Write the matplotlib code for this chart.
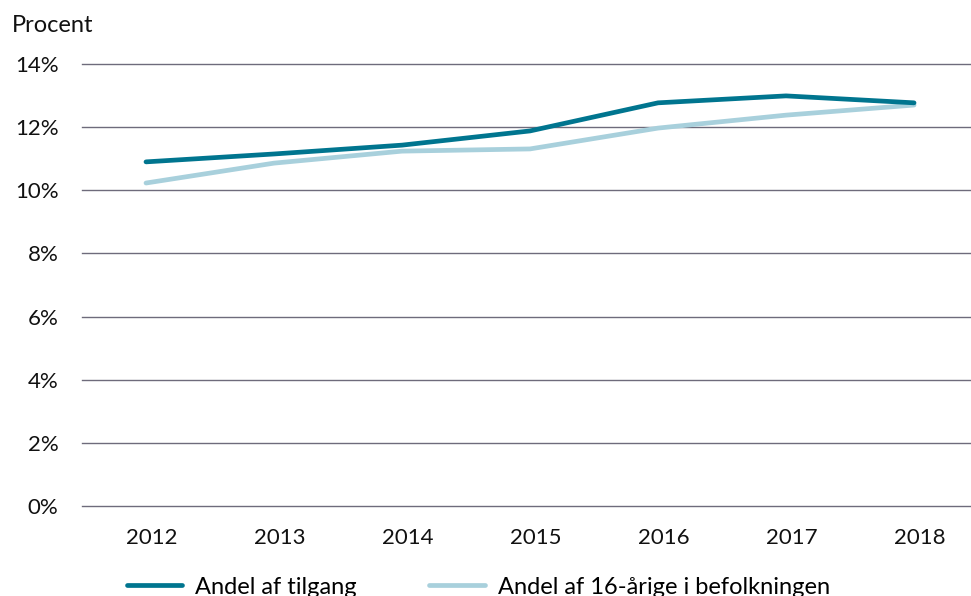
import matplotlib
matplotlib.use('Agg')
import matplotlib.pyplot as plt
from matplotlib.transforms import ScaledTranslation

plt.rcParams['font.family'] = ['Lato', 'DejaVu Sans']

# data
years = ['2012', '2013', '2014', '2015', '2016', '2017', '2018']
tilgang = [10.90, 11.15, 11.43, 11.88, 12.77, 12.99, 12.77]
befolkning = [10.23, 10.86, 11.24, 11.31, 11.97, 12.38, 12.70]
yticks = [0, 2, 4, 6, 8, 10, 12, 14]

dark = '#00758f'
light = '#a8d0dc'
grid_col = '#6e6b7b'

fig = plt.figure(figsize=(9.71, 5.96), dpi=100)
W, H = 971, 596
ax = fig.add_axes([82 / W, (H - 506) / H, (971 - 82) / W, (506 - 64) / H])

x = list(range(len(years)))
ax.plot(x, tilgang, color=dark, lw=3.4, solid_capstyle='round',
        label='Andel af tilgang', zorder=3, clip_on=False)
ax.plot(x, befolkning, color=light, lw=3.4, solid_capstyle='round',
        label='Andel af 16-årige i befolkningen', zorder=2, clip_on=False)

ax.set_xlim(-0.5, 6.445)
ax.set_ylim(0, 14)
ax.set_yticks(yticks)
ax.set_yticklabels([f'{v}%' for v in yticks])
ax.set_xticks(x)
ax.set_xticklabels(years)

for v in yticks:
    ax.axhline(v, color=grid_col, lw=1.0, zorder=1, clip_on=False)

for s in ax.spines.values():
    s.set_visible(False)
ax.tick_params(axis='both', length=0, labelsize=16, colors='#111111')
ax.tick_params(axis='y', pad=17)
ax.tick_params(axis='x', pad=16)
for lab in ax.get_xticklabels():
    lab.set_transform(lab.get_transform() + ScaledTranslation(6 / 100, 0, fig.dpi_scale_trans))

fig.text(12 / W, 1 - 25 / H, 'Procent', fontsize=17, va='center', ha='left', color='#111111')

fig.legend(loc='center left', bbox_to_anchor=(127 / W, 1 - 587 / H), ncol=2,
           frameon=False, fontsize=17, borderpad=0, borderaxespad=0,
           handlelength=2.35, handletextpad=0.55, columnspacing=3.05)

fig.savefig('out.png', dpi=100)
